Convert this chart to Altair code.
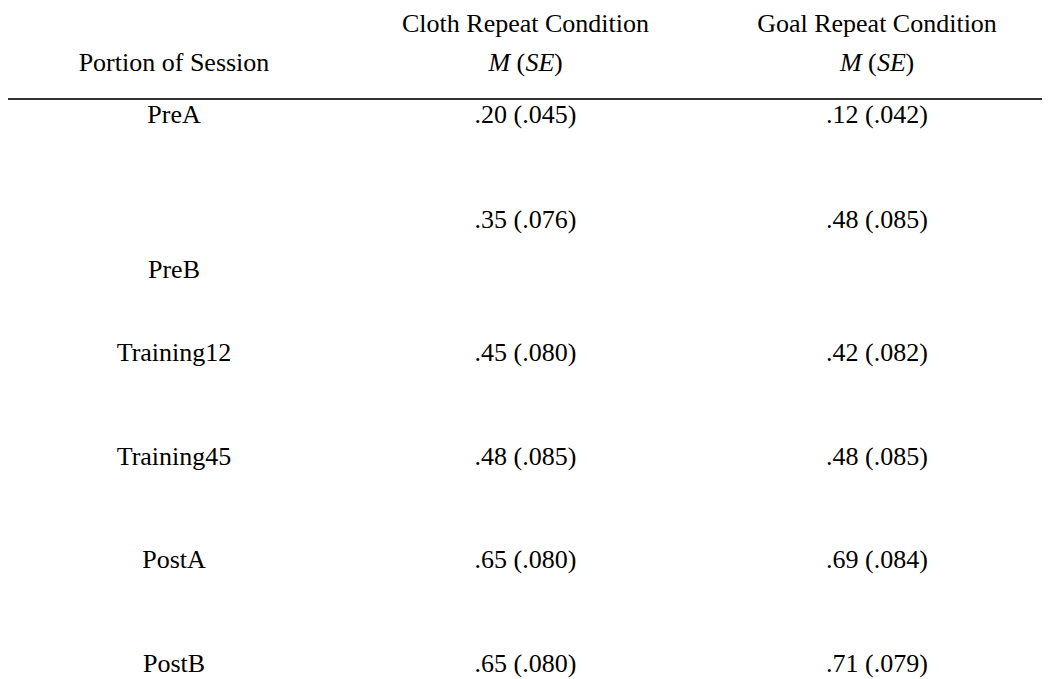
import altair as alt
import pandas as pd

# ---- data ----
sessions = ["PreA", "PreB", "Training12", "Training45", "PostA", "PostB"]
columns = ["Portion of Session", "Cloth Repeat Condition", "Goal Repeat Condition"]
cloth_m = [0.20, 0.35, 0.45, 0.48, 0.65, 0.65]
cloth_se = [0.045, 0.076, 0.080, 0.085, 0.080, 0.080]
goal_m = [0.12, 0.48, 0.42, 0.48, 0.69, 0.71]
goal_se = [0.042, 0.085, 0.082, 0.085, 0.084, 0.079]


def fmt(m, se):
    return f"{m:.2f}".lstrip("0") + " (" + f"{se:.3f}".lstrip("0") + ")"


rows = []
for i, s in enumerate(sessions):
    rows.append({"session": s, "column": columns[0], "text": s})
    rows.append({"session": s, "column": columns[1], "text": fmt(cloth_m[i], cloth_se[i])})
    rows.append({"session": s, "column": columns[2], "text": fmt(goal_m[i], goal_se[i])})
df = pd.DataFrame(rows)

hdr = pd.DataFrame({"column": columns[1:]})
hdr_left = pd.DataFrame({"column": [columns[0]], "text": [columns[0]]})

FONT = "Liberation Serif"
FS = 26

xscale = alt.Scale(type="point", domain=columns, range=[166, 869], padding=0)
yscale = alt.Scale(type="point", domain=sessions, range=[145.7, 664], padding=0)

X = alt.X("column:N", scale=xscale, axis=None)
Y = alt.Y("session:N", scale=yscale, axis=None)


def cell_layer(filt, dy):
    return (
        alt.Chart(df)
        .transform_filter(filt)
        .mark_text(font=FONT, fontSize=FS, baseline="alphabetic", align="center", color="black", dy=dy)
        .encode(x=X, y=Y, text="text:N")
    )


is_pre_a = alt.datum.session == "PreA"
is_pre_b = alt.datum.session == "PreB"
is_label = alt.datum.column == columns[0]

main = cell_layer((alt.datum.session != "PreA") & (alt.datum.session != "PreB"), 0)
pre_a = cell_layer(is_pre_a, -31)
pre_b_vals = cell_layer(is_pre_b & (alt.datum.column != columns[0]), -29)
pre_b_lab = cell_layer(is_pre_b & is_label, 21)

# header line 1: condition names
h1 = (
    alt.Chart(hdr)
    .mark_text(font=FONT, fontSize=FS, baseline="alphabetic", align="center", color="black")
    .encode(x=X, y=alt.value(24), text="column:N")
)
# header line 2 left
h2l = (
    alt.Chart(hdr_left)
    .mark_text(font=FONT, fontSize=FS, baseline="alphabetic", align="center", color="black")
    .encode(x=X, y=alt.value(63), text="text:N")
)


def piece(txt, dx, italic):
    kw = dict(font=FONT, fontSize=FS, baseline="alphabetic", align="left", color="black", dx=dx)
    if italic:
        kw["fontStyle"] = "italic"
    return alt.Chart(hdr).mark_text(**kw).encode(x=X, y=alt.value(63), text=alt.value(txt))


m_pieces = [
    piece("M", -37, True),
    piece("(", -9, False),
    piece("SE", 0, True),
    piece(")", 28.5, False),
]

rule = alt.Chart(hdr_left).mark_rule(color="#333333", strokeWidth=2).encode(
    x=alt.value(0), x2=alt.value(1034), y=alt.value(91)
)

chart = (
    alt.layer(rule, main, pre_a, pre_b_vals, pre_b_lab, h1, h2l, *m_pieces)
    .properties(
        width=1034,
        height=671,
        padding=0,
        autosize=alt.AutoSizeParams(type="none"),
        background="white",
    )
    .configure_view(stroke=None)
)

chart.save("out.html", embed_options={"renderer": "svg", "actions": False})
